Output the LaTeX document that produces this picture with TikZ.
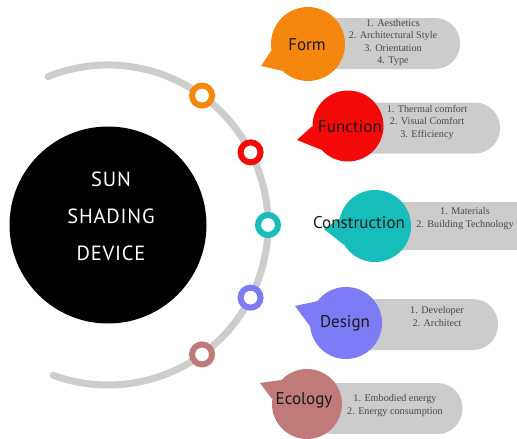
\documentclass[tikz,border=0pt]{standalone}
\usepackage{fontspec}
\setmainfont{Liberation Serif}
\newfontfamily\labelfont{PT Sans}
\newfontfamily\sunfont[LetterSpace=4]{PT Sans}
\usetikzlibrary{calc}
\definecolor{cForm}{HTML}{F5870F}
\definecolor{cFunc}{HTML}{F50A0A}
\definecolor{cCons}{HTML}{17BDBA}
\definecolor{cDes}{HTML}{7D7BF5}
\definecolor{cEco}{HTML}{C07A7A}
\definecolor{pillgray}{HTML}{CCCCCC}
\definecolor{arcgray}{HTML}{CDCDCD}
\definecolor{itemtext}{HTML}{484848}
\definecolor{labeltext}{HTML}{1A1A1A}
\tikzset{
  ring/.style={circle, draw=#1, line width=6pt, fill=white, minimum size=20pt, inner sep=0pt},
  bubble/.style={circle, fill=#1, minimum size=72pt, inner sep=0pt},
  pill/.style={rectangle, fill=pillgray, rounded corners=25pt, minimum height=51pt, inner sep=0pt},
  lbl/.style={font=\labelfont\fontsize{17}{20}\selectfont, text=labeltext, inner sep=0pt},
  items/.style={font=\fontsize{10.2}{12.6}\selectfont, text=itemtext, align=center, inner sep=0pt},
}
\begin{document}
\begin{tikzpicture}[x=1pt,y=-1pt]
\useasboundingbox (0,0) rectangle (517,439);
\clip (0,0) rectangle (517,439);
\coordinate (ctr) at (108,225);
% arc
\draw[arcgray, line width=7pt, line cap=round] ($(ctr)+(-112:160)$) arc[start angle=-112, end angle=110, radius=160];
% rings
\node[ring=cForm] (r1) at ($(ctr)+(-54:160)$) {};
\node[ring=cFunc] (r2) at ($(ctr)+(-27:160)$) {};
\node[ring=cCons] (r3) at ($(ctr)+(0:160)$) {};
\node[ring=cDes] (r4) at ($(ctr)+(27:160)$) {};
\node[ring=cEco] (r5) at ($(ctr)+(54:160)$) {};
% sun
\node[circle, fill=black, minimum size=197pt, inner sep=0pt] (sun) at (ctr) {};
\node[font=\sunfont\fontsize{20.5}{37}\selectfont, text=white, align=center, inner sep=0pt] (suntext) at (111,216) {SUN\\SHADING\\DEVICE};
% pills
\node[pill, minimum width=152pt] (p1) at (384,43.5) {};
\node[pill, minimum width=152pt] (p2) at (424,128) {};
\node[pill, minimum width=170pt, minimum height=48pt] (p3) at (460,226) {};
\node[pill, minimum width=152pt] (p4) at (422,324.5) {};
\node[pill, minimum width=155pt] (p5) at (385,408.5) {};
% bubbles
\node[bubble=cForm, minimum size=74pt] (b1) at (308,44) {};
\node[bubble=cFunc, minimum size=71pt] (b2) at (348,126) {};
\node[bubble=cCons, minimum size=72pt] (b3) at (375,226) {};
\node[bubble=cDes, minimum size=72pt] (b4) at (346,323) {};
\node[bubble=cEco, minimum size=70pt] (b5) at (307,404) {};
% tails
\coordinate (t1) at (261,66);
\coordinate (t2) at (297,140);
\coordinate (t3) at (324,229);
\coordinate (t4) at (295,306);
\coordinate (t5) at (260,383);
\fill[cForm] (t1) -- (b1.190) -- (b1.226) -- cycle;
\fill[cFunc] (t2) -- (b2.180) -- (b2.222) -- cycle;
\fill[cCons] (t3) -- (b3.168) -- (b3.212) -- cycle;
\fill[cDes] (t4) -- (b4.143) -- (b4.185) -- cycle;
\fill[cEco] (t5) -- (b5.137) -- (b5.172) -- cycle;
% labels
\node[lbl] (l1) at (307,45) {Form};
\node[lbl] (l2) at (350,127) {Function};
\node[lbl] (l3) at (359,223) {Construction};
\node[lbl] (l4) at (345,323) {Design};
\node[lbl] (l5) at (304,400) {Ecology};
% items
\node[items] (i1) at (393,42.5) {1. Aesthetics\\2. Architectural Style\\3. Orientation\\4. Type};
\node[items] (i2) at (427,122.5) {1. Thermal comfort\\2. Visual Comfort\\3. Efficiency};
\node[items] (i3) at (465,218.5) {1. Materials\\2. Building Technology};
\node[items] (i4) at (437,316.5) {1. Developer\\2. Architect};
\node[items] (i5) at (395,405.5) {1. Embodied energy\\2. Energy consumption};
\end{tikzpicture}
\end{document}
